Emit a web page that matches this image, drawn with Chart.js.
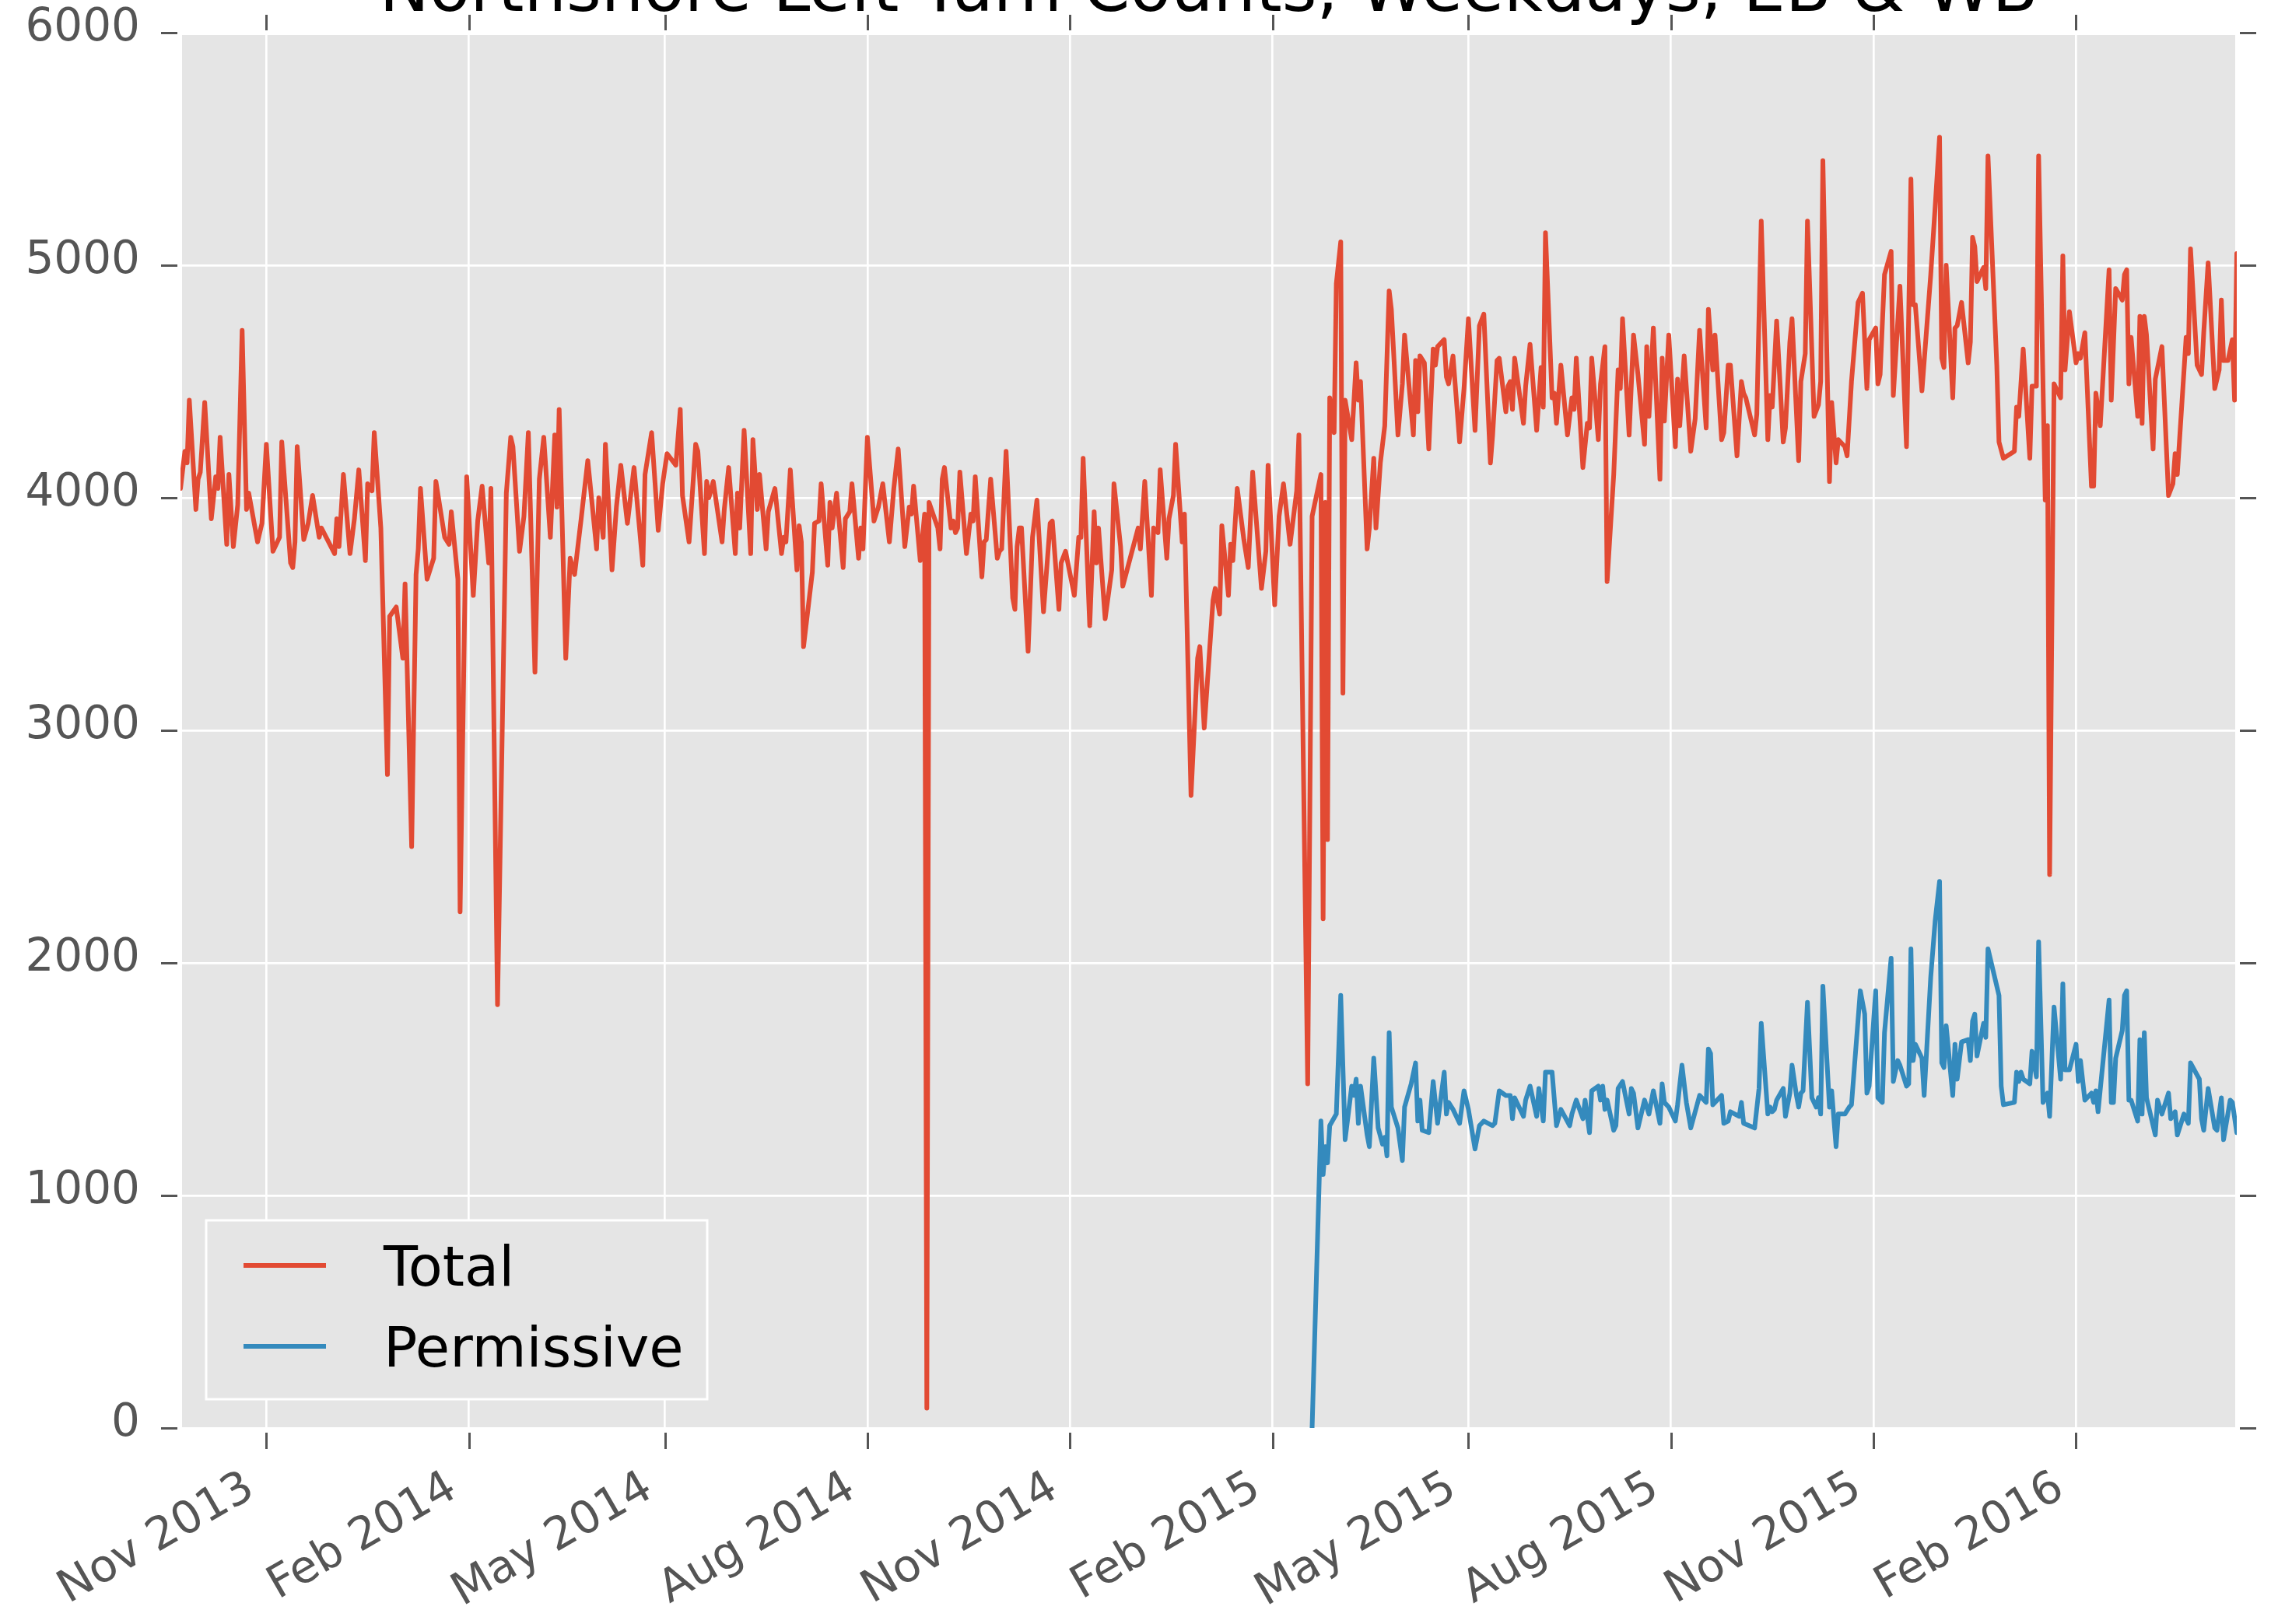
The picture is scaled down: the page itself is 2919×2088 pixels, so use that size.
<!DOCTYPE html>
<html>
<head>
<meta charset="utf-8">
<title>Northshore Left Turn Counts, Weekdays, EB &amp; WB</title>
<script src="https://cdn.jsdelivr.net/npm/chart.js@4.4.0/dist/chart.umd.min.js"></script>
<style>
  html, body { margin: 0; padding: 0; background: #ffffff; }
  canvas { display: block; }
</style>
</head>
<body>
<canvas id="chart" width="2919" height="2088"></canvas>
<script>
// Weekday samples, x = days counted from 1 Nov 2013
const totalDays = [
  -39, -37, -36, -35, -32, -31, -30, -28, -25, -23,
  -22, -21, -18, -17, -15, -13, -11, -9, -8, -4,
  -2, 0, 3, 6, 7, 11, 12, 13, 14, 17,
  19, 21, 24, 25, 31, 32, 33, 35, 38, 40,
  42, 45, 46, 48, 49, 52, 55, 56, 59, 62,
  63, 66, 68, 69, 70, 73, 76, 77, 81, 83,
  84, 87, 88, 91, 94, 96, 98, 101, 102, 105,
  109, 111, 112, 115, 117, 119, 122, 124, 126, 129,
  131, 132, 133, 136, 138, 140, 143, 146, 150, 151,
  153, 154, 157, 159, 161, 164, 167, 171, 172, 175,
  178, 180, 182, 186, 188, 189, 192, 195, 196, 199,
  200, 201, 203, 207, 208, 210, 213, 214, 215, 217,
  220, 221, 223, 224, 227, 228, 231, 234, 235, 236,
  238, 241, 242, 243, 244, 248, 249, 251, 252, 255,
  256, 257, 259, 262, 263, 265, 266, 269, 270, 271,
  273, 276, 278, 280, 283, 285, 287, 290, 292, 293,
  294, 297, 299, 300, 301, 305, 306, 307, 308, 311,
  312, 313, 314, 315, 318, 320, 321, 322, 325, 326,
  327, 329, 332, 333, 334, 336, 339, 340, 341, 342,
  343, 346, 348, 350, 353, 356, 357, 360, 361, 363,
  367, 369, 370, 371, 374, 376, 377, 378, 381, 384,
  385, 388, 389, 396, 397, 399, 402, 403, 405, 406,
  409, 410, 412, 413, 416, 417, 420, 423, 424, 426,
  430, 431, 433, 434, 437, 438, 439, 441, 444, 446,
  448, 452, 454, 455, 458, 460, 462, 465, 468, 469,
  473, 475, 479, 480, 481, 482, 483, 485, 486, 488,
  489, 490, 493, 495, 496, 497, 500, 501, 503, 504,
  506, 508, 510, 511, 514, 516, 517, 521, 522, 523,
  524, 526, 528, 530, 531, 532, 535, 536, 537, 539,
  542, 544, 546, 549, 551, 553, 556, 557, 559, 560,
  563, 564, 565, 566, 567, 571, 572, 574, 577, 579,
  580, 581, 584, 585, 586, 588, 591, 593, 594, 595,
  598, 600, 601, 602, 605, 606, 608, 609, 612, 614,
  615, 616, 619, 621, 623, 626, 627, 628, 630, 633,
  634, 635, 637, 640, 641, 642, 644, 647, 649, 651,
  654, 655, 657, 658, 661, 662, 664, 665, 668, 670,
  671, 672, 676, 677, 679, 682, 683, 684, 686, 689,
  690, 692, 693, 696, 697, 699, 700, 703, 705, 706,
  707, 710, 711, 713, 714, 717, 718, 720, 723, 725,
  727, 728, 731, 732, 733, 735, 738, 739, 742, 745,
  747, 748, 749, 752, 756, 758, 760, 761, 762, 763,
  766, 767, 768, 770, 773, 774, 775, 776, 777, 780,
  781, 782, 786, 787, 789, 794, 795, 796, 798, 801,
  802, 804, 805, 808, 809, 810, 812, 815, 816, 817,
  819, 822, 823, 824, 826, 829, 830, 831, 833, 837,
  838, 840, 843, 844, 845, 846, 847, 850, 851, 852,
  853, 854, 857, 858, 861, 864, 866, 867, 868, 872,
  873, 874, 877, 879, 880, 882, 885, 887, 888, 889,
  891, 893, 894, 895
];
const totalCounts = [
  4040, 4200, 4150, 4420, 3950, 4080, 4110, 4410, 3910, 4090,
  4040, 4260, 3800, 4100, 3790, 3970, 4720, 3950, 4020, 3810,
  3890, 4230, 3770, 3830, 4240, 3720, 3700, 3810, 4220, 3820,
  3890, 4010, 3830, 3870, 3760, 3910, 3790, 4100, 3760, 3910,
  4120, 3730, 4060, 4030, 4280, 3870, 2810, 3490, 3530, 3310,
  3630, 2500, 3670, 3780, 4040, 3650, 3740, 4070, 3830, 3800,
  3940, 3650, 2220, 4090, 3580, 3900, 4050, 3720, 4040, 1820,
  4020, 4260, 4220, 3770, 3920, 4280, 3250, 4080, 4260, 3830,
  4270, 3960, 4380, 3310, 3740, 3670, 3910, 4160, 3780, 4000,
  3830, 4230, 3690, 3960, 4140, 3890, 4130, 3710, 4100, 4280,
  3860, 4060, 4190, 4140, 4380, 4010, 3810, 4230, 4200, 3760,
  4070, 4000, 4070, 3810, 3950, 4130, 3760, 4020, 3870, 4290,
  3760, 4250, 3950, 4100, 3780, 3940, 4040, 3760, 3830, 3810,
  4120, 3690, 3880, 3810, 3360, 3680, 3890, 3900, 4060, 3710,
  3980, 3870, 4020, 3700, 3910, 3940, 4060, 3740, 3870, 3780,
  4260, 3900, 3960, 4060, 3810, 4040, 4210, 3790, 3960, 3930,
  4050, 3730, 3930, 85, 3980, 3870, 3780, 4080, 4130, 3870,
  3900, 3850, 3870, 4110, 3760, 3930, 3900, 4090, 3660, 3810,
  3820, 4080, 3740, 3770, 3780, 4200, 3570, 3520, 3790, 3870,
  3870, 3340, 3830, 3990, 3510, 3890, 3900, 3520, 3720, 3770,
  3580, 3830, 3830, 4170, 3450, 3940, 3720, 3870, 3480, 3690,
  4060, 3790, 3620, 3870, 3780, 4070, 3580, 3870, 3850, 4120,
  3740, 3910, 4010, 4230, 3810, 3930, 2720, 3310, 3360, 3010,
  3560, 3610, 3500, 3880, 3580, 3800, 3730, 4040, 3820, 3700,
  4110, 3610, 3770, 4140, 3540, 3920, 4060, 3800, 4030, 4270,
  1480, 3920, 4100, 2190, 3980, 2530, 4430, 4280, 4920, 5100,
  3160, 4420, 4250, 4580, 4420, 4500, 3780, 3870, 4170, 3870,
  4150, 4310, 4890, 4810, 4270, 4490, 4700, 4270, 4590, 4370,
  4610, 4580, 4210, 4640, 4570, 4650, 4680, 4520, 4490, 4610,
  4240, 4470, 4770, 4290, 4740, 4790, 4150, 4270, 4590, 4600,
  4370, 4480, 4500, 4380, 4600, 4320, 4480, 4660, 4290, 4560,
  4390, 5140, 4430, 4450, 4320, 4570, 4270, 4430, 4380, 4600,
  4130, 4320, 4300, 4600, 4250, 4490, 4650, 3640, 4100, 4550,
  4470, 4770, 4270, 4700, 4530, 4230, 4650, 4350, 4730, 4080,
  4600, 4330, 4700, 4220, 4510, 4310, 4610, 4200, 4340, 4720,
  4300, 4810, 4550, 4700, 4250, 4280, 4570, 4570, 4180, 4500,
  4450, 4430, 4270, 4360, 5190, 4250, 4440, 4390, 4760, 4240,
  4300, 4670, 4770, 4160, 4500, 4620, 5190, 4350, 4400, 4500,
  5450, 4070, 4410, 4150, 4250, 4220, 4180, 4500, 4840, 4880,
  4470, 4680, 4730, 4490, 4530, 4960, 5060, 4440, 4910, 4220,
  5370, 4830, 4830, 4460, 4960, 5250, 5550, 4600, 4560, 5000,
  4430, 4730, 4740, 4840, 4580, 4670, 5120, 5080, 4930, 4990,
  4900, 5470, 4570, 4240, 4170, 4200, 4390, 4350, 4640, 4170,
  4480, 4480, 5470, 3990, 4310, 2380, 4490, 4430, 5040, 4550,
  4800, 4580, 4620, 4600, 4710, 4050, 4050, 4450, 4310, 4980,
  4420, 4900, 4850, 4960, 4980, 4490, 4690, 4350, 4780, 4320,
  4780, 4700, 4210, 4510, 4650, 4010, 4060, 4190, 4100, 4690,
  4620, 5070, 4570, 4530, 4710, 5010, 4470, 4550, 4850, 4590,
  4590, 4680, 4420, 5050
];

const permDays = [
  475, 479, 480, 481, 482, 483, 486, 488, 490, 493,
  494, 495, 496, 497, 500, 501, 503, 505, 507, 508,
  509, 510, 511, 514, 516, 517, 520, 522, 523, 524,
  525, 528, 530, 532, 535, 536, 537, 539, 542, 544,
  546, 549, 551, 553, 557, 558, 560, 563, 565, 566,
  567, 571, 572, 574, 577, 578, 580, 581, 584, 586,
  588, 592, 593, 595, 598, 599, 601, 602, 605, 606,
  607, 608, 609, 612, 613, 614, 616, 619, 620, 621,
  623, 626, 628, 630, 633, 634, 635, 637, 640, 641,
  643, 645, 647, 651, 654, 655, 656, 657, 661, 662,
  664, 665, 669, 670, 671, 676, 678, 679, 682, 683,
  684, 685, 686, 689, 690, 692, 693, 695, 696, 697,
  698, 700, 702, 704, 705, 706, 707, 710, 711, 713,
  714, 717, 719, 720, 724, 726, 727, 728, 731, 732,
  734, 735, 738, 739, 741, 742, 745, 746, 747, 748,
  749, 752, 753, 756, 758, 760, 761, 762, 763, 766,
  767, 768, 770, 773, 774, 775, 776, 777, 780, 781,
  782, 787, 788, 789, 794, 795, 796, 797, 798, 801,
  802, 804, 805, 807, 809, 810, 812, 815, 816, 817,
  819, 822, 823, 824, 826, 829, 830, 831, 832, 837,
  838, 839, 840, 843, 844, 845, 846, 847, 850, 851,
  852, 853, 854, 858, 859, 861, 864, 865, 867, 868,
  871, 873, 874, 878, 879, 880, 882, 885, 886, 888,
  889, 892, 893, 895
];
const permCounts = [
  0, 1320, 1090, 1210, 1140, 1300, 1350, 1860, 1240, 1470,
  1430, 1500, 1310, 1470, 1260, 1210, 1590, 1290, 1220, 1250,
  1170, 1700, 1380, 1290, 1150, 1380, 1480, 1570, 1320, 1410,
  1280, 1270, 1490, 1310, 1530, 1350, 1400, 1370, 1310, 1450,
  1370, 1200, 1300, 1320, 1300, 1310, 1450, 1430, 1430, 1330,
  1420, 1340, 1410, 1470, 1340, 1460, 1320, 1530, 1530, 1300,
  1370, 1300, 1350, 1410, 1330, 1410, 1270, 1450, 1470, 1410,
  1470, 1370, 1410, 1280, 1300, 1460, 1490, 1350, 1460, 1440,
  1290, 1410, 1350, 1450, 1310, 1480, 1400, 1380, 1320, 1390,
  1560, 1400, 1290, 1430, 1400, 1630, 1610, 1390, 1430, 1310,
  1320, 1360, 1340, 1400, 1310, 1290, 1460, 1740, 1350, 1380,
  1360, 1370, 1410, 1460, 1340, 1440, 1560, 1430, 1380, 1440,
  1450, 1830, 1420, 1380, 1420, 1350, 1900, 1380, 1450, 1210,
  1350, 1350, 1380, 1390, 1880, 1780, 1440, 1470, 1880, 1420,
  1400, 1700, 2020, 1490, 1580, 1560, 1470, 1480, 2060, 1580,
  1650, 1590, 1430, 1940, 2180, 2350, 1570, 1550, 1730, 1430,
  1650, 1500, 1660, 1670, 1580, 1750, 1780, 1600, 1740, 1680,
  2060, 1860, 1470, 1390, 1400, 1530, 1490, 1530, 1500, 1480,
  1620, 1510, 2090, 1400, 1440, 1340, 1810, 1500, 1910, 1540,
  1540, 1650, 1490, 1580, 1410, 1440, 1400, 1450, 1360, 1840,
  1400, 1400, 1590, 1710, 1860, 1880, 1410, 1410, 1320, 1670,
  1350, 1700, 1420, 1260, 1410, 1350, 1440, 1330, 1360, 1260,
  1350, 1310, 1570, 1500, 1330, 1280, 1460, 1290, 1280, 1420,
  1240, 1410, 1400, 1270
];

const tickLabels = ['Nov 2013', 'Feb 2014', 'May 2014', 'Aug 2014', 'Nov 2014',
                    'Feb 2015', 'May 2015', 'Aug 2015', 'Nov 2015', 'Feb 2016'];
const yTicks = [0, 1000, 2000, 3000, 4000, 5000, 6000];

const MONTHS = ['Jan', 'Feb', 'Mar', 'Apr', 'May', 'Jun', 'Jul', 'Aug', 'Sep', 'Oct', 'Nov', 'Dec'];
const DAY0 = Date.UTC(2013, 10, 1);
function labelToDay(lbl) {
    const [m, y] = lbl.split(' ');
    return (Date.UTC(+y, MONTHS.indexOf(m), 1) - DAY0) / 86400000;
}
const tickDays = tickLabels.map(labelToDay);

const FONT = 'DejaVu Sans';
Chart.defaults.font.family = FONT;

// gray panel behind the plot
const plotBackground = {
    id: 'plotBackground',
    beforeDraw(chart) {
        const { ctx, chartArea: a } = chart;
        ctx.save();
        ctx.fillStyle = '#E5E5E5';
        ctx.fillRect(a.left + 2, a.top + 3, a.right - a.left - 4, a.bottom - a.top - 3);
        ctx.restore();
    }
};

// outward tick marks on all four sides
const outerTicks = {
    id: 'outerTicks',
    afterDraw(chart) {
        const { ctx, chartArea: a, scales } = chart;
        ctx.save();
        ctx.strokeStyle = '#555555';
        ctx.lineWidth = 3;
        ctx.beginPath();
        scales.x.ticks.forEach(t => {
            const px = Math.round(scales.x.getPixelForValue(t.value)) + 0.5;
            ctx.moveTo(px, a.bottom + 6); ctx.lineTo(px, a.bottom + 27);
            ctx.moveTo(px, a.top - 3); ctx.lineTo(px, a.top - 23);
        });
        scales.y.ticks.forEach(t => {
            const py = Math.round(scales.y.getPixelForValue(t.value)) + 0.5;
            ctx.moveTo(a.left - 4, py); ctx.lineTo(a.left - 25, py);
            ctx.moveTo(a.right + 4, py); ctx.lineTo(a.right + 25, py);
        });
        ctx.stroke();
        ctx.restore();
    }
};

// title sits partly above the top edge of the page
const chartTitle = {
    id: 'chartTitle',
    afterDraw(chart) {
        const { ctx, chartArea: a } = chart;
        ctx.save();
        ctx.font = `86px "${FONT}"`;
        ctx.fillStyle = '#000000';
        ctx.textAlign = 'center';
        ctx.textBaseline = 'alphabetic';
        ctx.fillText('Northshore Left Turn Counts, Weekdays, EB & WB', (a.left + a.right) / 2, 14);
        ctx.restore();
    }
};

// legend box in the lower left corner
const boxLegend = {
    id: 'boxLegend',
    afterDraw(chart) {
        const { ctx, chartArea: a } = chart;
        const x0 = a.left + 33, y0 = a.bottom - 267, w = 644, h = 230;
        ctx.save();
        ctx.fillStyle = '#E5E5E5';
        ctx.fillRect(x0, y0, w, h);
        ctx.strokeStyle = '#ffffff';
        ctx.lineWidth = 3;
        ctx.strokeRect(x0, y0, w, h);
        ctx.font = `72px "${FONT}"`;
        ctx.textAlign = 'left';
        ctx.textBaseline = 'alphabetic';
        chart.data.datasets.forEach((ds, i) => {
            const ly = y0 + 58 + i * 104;
            ctx.strokeStyle = ds.borderColor;
            ctx.lineWidth = 6;
            ctx.beginPath();
            ctx.moveTo(x0 + 48, ly);
            ctx.lineTo(x0 + 154, ly);
            ctx.stroke();
            ctx.fillStyle = '#000000';
            ctx.fillText(ds.label, x0 + 228, ly + 26);
        });
        ctx.restore();
    }
};

const axisGrid = { color: '#ffffff', lineWidth: 2.7, drawTicks: false };

new Chart(document.getElementById('chart'), {
    type: 'line',
    data: {
        datasets: [
            {
                label: 'Total',
                data: totalDays.map((d, i) => ({ x: d, y: totalCounts[i] })),
                borderColor: '#E24A33',
                borderWidth: 6,
                pointRadius: 0,
                tension: 0,
                borderJoinStyle: 'round',
                borderCapStyle: 'round',
                order: 1
            },
            {
                label: 'Permissive',
                data: permDays.map((d, i) => ({ x: d, y: permCounts[i] })),
                borderColor: '#348ABD',
                borderWidth: 6,
                pointRadius: 0,
                tension: 0,
                borderJoinStyle: 'round',
                borderCapStyle: 'round',
                order: 0
            }
        ]
    },
    options: {
        responsive: false,
        animation: false,
        events: [],
        layout: { padding: { top: 42, right: 44, left: 0, bottom: 0 } },
        plugins: {
            legend: { display: false },
            title: { display: false },
            tooltip: { enabled: false }
        },
        scales: {
            x: {
                type: 'linear',
                min: totalDays[0],
                max: totalDays[totalDays.length - 1],
                afterBuildTicks: s => { s.ticks = tickDays.map(v => ({ value: v })); },
                afterFit: s => { s.height = 252; s.paddingLeft = 0; s.paddingRight = 0; },
                grid: axisGrid,
                border: { display: false },
                ticks: {
                    autoSkip: false,
                    maxRotation: 30,
                    minRotation: 30,
                    padding: 43,
                    labelOffset: -20,
                    color: '#555555',
                    font: { size: 58 },
                    callback: (v, i) => tickLabels[i]
                }
            },
            y: {
                min: 0,
                max: 6000,
                afterBuildTicks: s => { s.ticks = yTicks.map(v => ({ value: v })); },
                afterFit: s => { s.width = 232; s.paddingTop = 0; s.paddingBottom = 0; },
                grid: axisGrid,
                border: { display: false },
                ticks: {
                    padding: 52,
                    labelOffset: -5,
                    color: '#555555',
                    font: { size: 58 },
                    callback: v => String(v)
                }
            }
        }
    },
    plugins: [plotBackground, outerTicks, chartTitle, boxLegend]
});
</script>
</body>
</html>
